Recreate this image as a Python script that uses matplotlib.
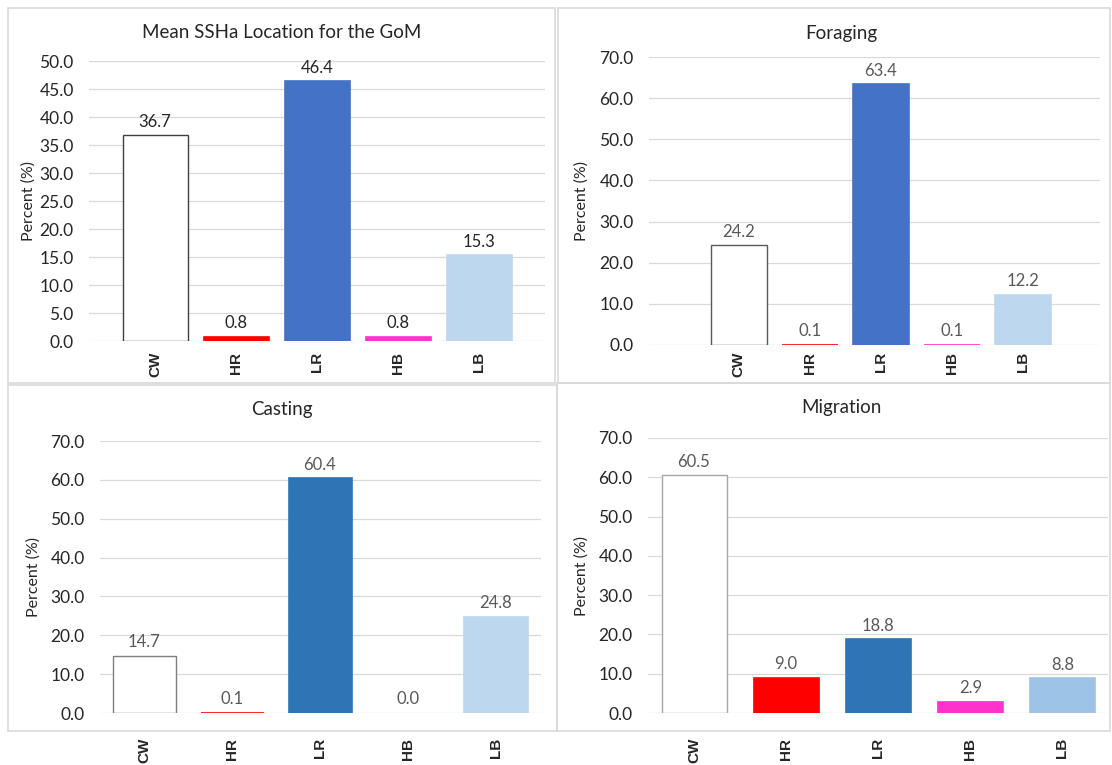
import numpy as np
import matplotlib
matplotlib.use("Agg")
import matplotlib.pyplot as plt
from matplotlib.patches import Rectangle

plt.rcParams['font.family'] = ['Lato', 'DejaVu Sans']

W, H = 1112, 765

cats = ['CW', 'HR', 'LR', 'HB', 'LB']
mean_ssha = [36.7, 0.8, 46.4, 0.8, 15.3]
foraging = [24.2, 0.1, 63.4, 0.1, 12.2]
casting = [14.7, 0.1, 60.4, 0.0, 24.8]
migration = [60.5, 9.0, 18.8, 2.9, 8.8]
titles = ['Mean SSHa Location for the GoM', 'Foraging', 'Casting', 'Migration']

colors_top = ['white', '#FF0000', '#4472C4', '#FF33CC', '#BDD7EE']
colors_cast = ['white', '#FF0000', '#2E75B6', '#FF33CC', '#BDD7EE']
colors_mig = ['white', '#FF0000', '#2E75B6', '#FF33CC', '#9DC3E6']

# pixel layout of each panel: grid left/right, y of top tick, y of zero,
# y max, tick step, first bar centre, bar spacing, bar width, border box,
# title centre, ylabel x, xtick pad (pt), edge colour of the CW bar, value text colour
panels = [
    dict(vals=mean_ssha, cols=colors_top, L=89, R=545, top=61, zero=341, ymax=50, step=5,
         c0=155, s=81, w=65, box=(8, 8, 555, 383), tc=(282, 33), yl=29, xpad=8,
         edge='#404040', vc='#262626'),
    dict(vals=foraging, cols=colors_top, L=649, R=1100, top=57, zero=345, ymax=70, step=10,
         c0=738.5, s=71.2, w=56, box=(558, 8, 1110, 383), tc=(841, 33), yl=582, xpad=5,
         edge='#595959', vc='#595959'),
    dict(vals=casting, cols=colors_cast, L=100, R=541, top=441, zero=713, ymax=70, step=10,
         c0=144, s=88, w=63, box=(8, 385, 557, 731), tc=(282, 410), yl=34, xpad=18,
         edge='#7f7f7f', vc='#595959'),
    dict(vals=migration, cols=colors_mig, L=648, R=1108, top=438, zero=713, ymax=70, step=10,
         c0=694, s=92.1, w=65, box=(557, 383, 1110, 731), tc=(841, 407), yl=582, xpad=18,
         edge='#a6a6a6', vc='#595959'),
]

fig = plt.figure(figsize=(W / 100, H / 100), dpi=100)

for p, title in zip(panels, titles):
    x0, y0, x1, y1 = p['box']
    fig.patches.append(Rectangle((x0 / W, 1 - y1 / H), (x1 - x0) / W, (y1 - y0) / H,
                                 transform=fig.transFigure, fill=False,
                                 edgecolor='#d9d9d9', lw=1.2))

    ax = fig.add_axes([p['L'] / W, 1 - p['zero'] / H,
                       (p['R'] - p['L']) / W, (p['zero'] - p['top']) / H])
    s = p['s']
    ax.set_xlim((p['L'] - p['c0']) / s, (p['R'] - p['c0']) / s)
    ax.set_ylim(0, p['ymax'])

    x = np.arange(len(cats))
    bars = ax.bar(x, p['vals'], width=p['w'] / s, color=p['cols'], zorder=2)
    # outline so that tiny values still show as a thin line
    for b, v, c in zip(bars[1:], p['vals'][1:], p['cols'][1:]):
        if v > 0:
            b.set_edgecolor(c)
            b.set_linewidth(1.2)
    bars[0].set_edgecolor(p['edge'])
    bars[0].set_linewidth(1.0)
    ax.bar_label(bars, labels=[f'{v:.1f}' for v in p['vals']], padding=4,
                 fontsize=12, color=p['vc'])

    ax.set_yticks(np.arange(0, p['ymax'] + p['step'] / 2, p['step']))
    ax.yaxis.set_major_formatter(matplotlib.ticker.FormatStrFormatter('%.1f'))
    ax.set_xticks(x)
    ax.set_xticklabels(cats, rotation=90, family=['Liberation Sans'], weight='bold',
                       fontsize=11)
    ax.tick_params(axis='y', length=0, pad=11, labelsize=12.5, labelcolor='#262626')
    ax.tick_params(axis='x', length=0, pad=p['xpad'], labelcolor='#262626')
    ax.grid(axis='y', color='#d9d9d9', lw=0.9)
    ax.set_axisbelow(True)
    for sp in ax.spines.values():
        sp.set_visible(False)

    fig.text(p['tc'][0] / W, 1 - p['tc'][1] / H, title, ha='center', va='center',
             fontsize=13.5, color='#262626')
    fig.text(p['yl'] / W, 1 - (p['top'] + p['zero']) / 2 / H, 'Percent (%)',
             rotation=90, ha='center', va='center', fontsize=11.5, color='#262626')

fig.savefig('out.png', dpi=100, facecolor='white')
